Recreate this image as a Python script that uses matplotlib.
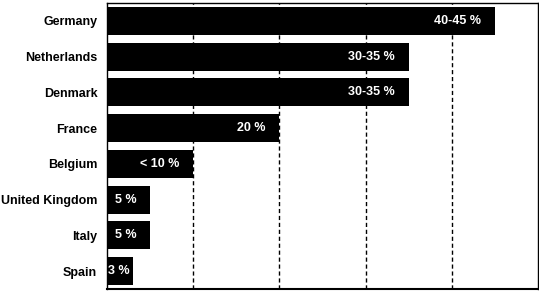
import matplotlib
matplotlib.use("Agg")
import matplotlib.pyplot as plt

# data
countries = ["Germany", "Netherlands", "Denmark", "France", "Belgium",
             "United Kingdom", "Italy", "Spain"]
shares = [45, 35, 35, 20, 10, 5, 5, 3]
labels = ["40-45 %", "30-35 %", "30-35 %", "20 %", "< 10 %", "5 %", "5 %", "3 %"]
grid_ticks = [10, 20, 30, 40]

plt.rcParams['font.family'] = ['Liberation Sans', 'DejaVu Sans']

fig = plt.figure(figsize=(5.39, 2.92), dpi=100)
ax = fig.add_axes([107 / 539, 3 / 292, 431 / 539, 286 / 292])

y = list(range(len(countries)))
ax.barh(y, shares, height=0.78, color='black', zorder=3)

# dashed vertical grid
for g in grid_ticks:
    ax.axvline(g, color='black', linestyle=(0, (3, 2)), linewidth=1, zorder=1)

# value labels inside bars
for yi, v, lab in zip(y, shares, labels):
    if v <= 3:
        ax.annotate(lab, (0, yi), xytext=(1, 0), textcoords='offset points',
                    ha='left', va='center', color='white', fontsize=9,
                    fontweight='bold', zorder=4)
    else:
        ax.annotate(lab, (v, yi), xytext=(-10, 0), textcoords='offset points',
                    ha='right', va='center', color='white', fontsize=9,
                    fontweight='bold', zorder=4)

ax.set_xlim(0, 50)
ax.set_ylim(len(countries) - 0.5, -0.5)
ax.set_yticks(y)
ax.set_yticklabels(countries, fontsize=9, fontweight='bold')
ax.tick_params(axis='y', length=0, pad=7)
ax.set_xticks([])
for s in ax.spines.values():
    s.set_color('black')
    s.set_linewidth(1)
ax.spines['bottom'].set_linewidth(1.5)

fig.savefig("out.png", dpi=100)
